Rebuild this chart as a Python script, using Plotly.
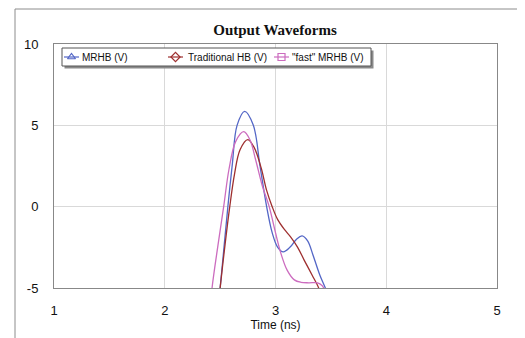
import plotly.graph_objects as go

# ---- data ----
mrhb_t = [2.47, 2.50, 2.535, 2.57, 2.61, 2.653, 2.722, 2.80, 2.86, 2.92, 2.97,
          3.02, 3.07, 3.13, 3.19, 3.24, 3.29, 3.34, 3.40, 3.45, 3.50]
mrhb_v = [-7.0, -5.0, -2.5, 0.0, 2.6, 5.0, 5.86, 5.0, 2.5, 0.0, -1.6,
          -2.5, -2.78, -2.5, -2.0, -1.8, -2.1, -3.0, -4.2, -5.0, -6.0]

trad_t = [2.47, 2.50, 2.545, 2.587, 2.63, 2.68, 2.75, 2.81, 2.87, 2.92, 2.97, 3.02,
          3.08, 3.136, 3.20, 3.26, 3.33, 3.39, 3.42]
trad_v = [-7.0, -5.0, -2.3, 0.0, 2.0, 3.5, 4.12, 3.6, 2.4, 1.0, 0.0, -0.8,
          -1.4, -1.86, -2.5, -3.3, -4.2, -5.0, -5.7]

fast_t = [2.40, 2.427, 2.48, 2.532, 2.58, 2.64, 2.713, 2.77, 2.82, 2.88, 2.943, 3.00,
          3.05, 3.105, 3.17, 3.23, 3.30, 3.38, 3.42, 3.45]
fast_v = [-7.0, -5.0, -2.4, 0.0, 2.3, 4.0, 4.61, 4.1, 2.9, 1.3, 0.0, -1.6,
          -2.9, -3.9, -4.5, -4.65, -4.68, -4.68, -4.85, -5.2]

series_names = ["MRHB (V)", "Traditional HB (V)", '"fast" MRHB (V)']
x_ticks = [1, 2, 3, 4, 5]
y_ticks = [-5, 0, 5, 10]

colors = ["#5366c6", "#9e2f2f", "#cc6cbf"]
symbols = ["triangle-up-open", "diamond-open", "square-open"]

X_RANGE = [1, 5]
Y_RANGE = [-5, 10]

OFF = 8  # page body margin
W, H = 525 - OFF, 338 - OFF
# plot area in page pixels
PL, PR, PT, PB = 54, 497, 44, 288
L, R, T, B = PL - OFF, W - (PR - OFF), PT - OFF, H - (PB - OFF)
pw, ph = W - L - R, H - T - B


def px(x):
    return (x - OFF - L) / pw


def py(y):
    return (H - B - (y - OFF)) / ph


def dx(x):  # page pixel -> data x
    return X_RANGE[0] + (x - PL) / (PR - PL) * (X_RANGE[1] - X_RANGE[0])


def dy(y):  # page pixel -> data y
    return Y_RANGE[0] + (PB - y) / (PB - PT) * (Y_RANGE[1] - Y_RANGE[0])


# custom legend layout (page pixels)
LEG_BOX = (62, 371, 48, 66)
LEG_Y = 57
leg_sym_x0 = [64, 168, 274]
leg_sym_len = 15
leg_text_x = [80, 186, 290]

fig = go.Figure()
for name, t, v, c in zip(series_names, [mrhb_t, trad_t, fast_t],
                         [mrhb_v, trad_v, fast_v], colors):
    fig.add_trace(go.Scatter(x=t, y=v, mode="lines", name=name,
                             line=dict(color=c, width=1.3, shape="spline", smoothing=1.0),
                             showlegend=False, hoverinfo="skip"))

# legend glyphs on a pixel-space overlay axis
for name, c, s, x0 in zip(series_names, colors, symbols, leg_sym_x0):
    fig.add_trace(go.Scatter(x=[x0, x0 + leg_sym_len], y=[LEG_Y, LEG_Y], mode="lines",
                             line=dict(color=c, width=1.2), xaxis="x2", yaxis="y2",
                             showlegend=False, hoverinfo="skip", cliponaxis=False))
    fig.add_trace(go.Scatter(x=[x0 + leg_sym_len / 2], y=[LEG_Y], mode="markers",
                             marker=dict(symbol=s, size=7, color=c, line=dict(color=c, width=1.2)),
                             xaxis="x2", yaxis="y2", showlegend=False, hoverinfo="skip",
                             cliponaxis=False))

annotations = [
    dict(text=n, x=tx, y=LEG_Y, xref="x2", yref="y2", xanchor="left", yanchor="middle",
         showarrow=False, font=dict(size=10, color="#111111"))
    for n, tx in zip(series_names, leg_text_x)
]

shapes = [
    # outer frame shadow + frame
    dict(type="rect", xref="paper", yref="paper", x0=px(17), x1=px(520), y0=py(340), y1=py(11),
         line=dict(color="#c4c4c4", width=2), fillcolor="rgba(0,0,0,0)", layer="below"),
    dict(type="rect", xref="paper", yref="paper", x0=px(15), x1=px(518), y0=py(340), y1=py(9),
         line=dict(color="#8c8c8c", width=1), fillcolor="white", layer="below"),
    # legend shadow + box (above grid, below curves)
    dict(type="rect", xref="x", yref="y", x0=dx(LEG_BOX[0] + 2.5), x1=dx(LEG_BOX[1] + 2.5),
         y0=dy(LEG_BOX[2] + 2.5), y1=dy(LEG_BOX[3] + 2.5),
         line=dict(width=0), fillcolor="#8a8a8a", layer="between"),
    dict(type="rect", xref="x", yref="y", x0=dx(LEG_BOX[0]), x1=dx(LEG_BOX[1]),
         y0=dy(LEG_BOX[2]), y1=dy(LEG_BOX[3]),
         line=dict(color="#555555", width=1), fillcolor="white", layer="between"),
]

fig.update_layout(
    width=W, height=H,
    margin=dict(l=L, r=R, t=T, b=B, autoexpand=False),
    paper_bgcolor="white", plot_bgcolor="white",
    font=dict(family="Liberation Sans, Arial, sans-serif", size=13, color="#111111"),
    title=dict(text="<b>Output Waveforms</b>", x=(275 - OFF) / W, xanchor="center",
               y=1 - (30 - OFF) / H, yanchor="middle",
               font=dict(family="Liberation Serif, Times New Roman, serif", size=15, color="#111111")),
    shapes=shapes,
    annotations=annotations,
    showlegend=False,
    xaxis=dict(range=X_RANGE, tickvals=x_ticks, ticktext=[str(v) for v in x_ticks],
               showgrid=True, gridcolor="#d9d9d9", gridwidth=1, zeroline=False,
               showline=True, linecolor="#888888", linewidth=1, mirror=True, ticks="",
               ticklabelstandoff=10,
               title=dict(text="Time (ns)", font=dict(size=12), standoff=4)),
    yaxis=dict(range=Y_RANGE, tickvals=y_ticks, ticktext=[str(v) for v in y_ticks],
               showgrid=True, gridcolor="#d9d9d9", gridwidth=1, zeroline=False,
               showline=True, linecolor="#888888", linewidth=1, mirror=True, ticks="",
               ticklabelstandoff=12),
    xaxis2=dict(overlaying="x", range=[PL, PR], visible=False, fixedrange=True),
    yaxis2=dict(overlaying="y", range=[PB, PT], visible=False, fixedrange=True),
)

fig.write_html("out.html")
